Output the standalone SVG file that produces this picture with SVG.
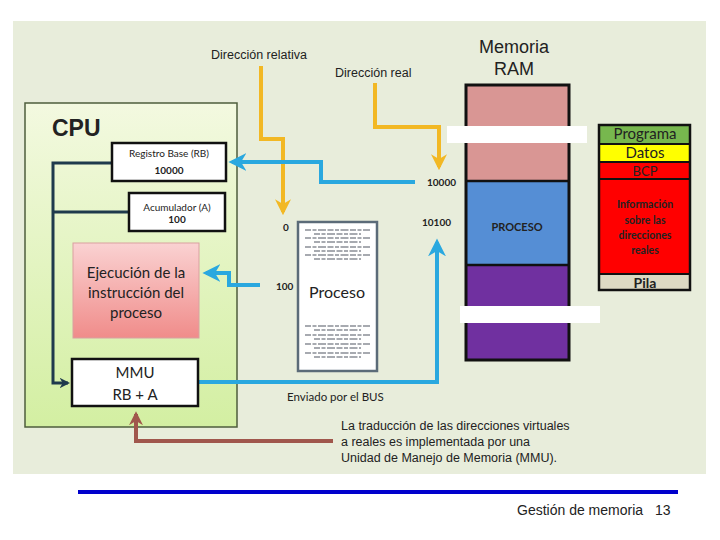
<svg xmlns="http://www.w3.org/2000/svg" width="720" height="540" viewBox="0 0 720 540">
<defs>
<linearGradient id="gCpu" x1="0" y1="0" x2="0" y2="1"><stop offset="0" stop-color="#f3f9e0"/><stop offset="1" stop-color="#d3efa2"/></linearGradient>
<linearGradient id="gEje" x1="0" y1="0" x2="0" y2="1"><stop offset="0" stop-color="#fad2d2"/><stop offset="1" stop-color="#f08c8a"/></linearGradient>
<marker id="aY" viewBox="0 0 10 10" refX="8" refY="5" markerWidth="4" markerHeight="4" orient="auto"><path d="M0,0 L10,5 L0,10 L3,5 z" fill="#f2b824"/></marker>
<marker id="aB" viewBox="0 0 10 10" refX="8" refY="5" markerWidth="4.5" markerHeight="4.5" orient="auto"><path d="M0,0 L10,5 L0,10 L3,5 z" fill="#2aa8df"/></marker>
<marker id="aD" viewBox="0 0 10 10" refX="8" refY="5" markerWidth="3.5" markerHeight="3.5" orient="auto"><path d="M0,0 L10,5 L0,10 L3,5 z" fill="#1f3a4d"/></marker>
<marker id="aR" viewBox="0 0 10 10" refX="8" refY="5" markerWidth="3.5" markerHeight="3.5" orient="auto"><path d="M0,0 L10,5 L0,10 L3,5 z" fill="#a0574c"/></marker>
</defs>
<style>
.ar{font-family:"Liberation Sans",Arial,sans-serif;fill:#222}
.cb{font-family:Lato,"Open Sans","Liberation Sans",sans-serif;fill:#222}
.box{fill:#fff;stroke:#111;stroke-width:2.5}
.yl{fill:none;stroke:#f2b824;stroke-width:4;marker-end:url(#aY)}
.bl{fill:none;stroke:#2aa8df;stroke-width:4;marker-end:url(#aB)}
.dk{fill:none;stroke:#1f3a4d;stroke-width:3}
.ln{stroke:#8a8f96;stroke-width:1.3;stroke-dasharray:6 1.5 4 1.5 8 1.5}
</style>
<rect x="0" y="0" width="720" height="540" fill="#fff"/>
<rect x="13" y="21" width="693" height="453" fill="#e8eddb"/>

<g id="cpu">
<rect x="25" y="103" width="212" height="324" fill="url(#gCpu)" stroke="#4e5d3c" stroke-width="1.5"/>
<text class="ar" x="52" y="136" font-size="23" font-weight="bold" fill="#000">CPU</text>
</g>

<g id="connectors">
<path class="dk" d="M112,163 H53 V383 H68" marker-end="url(#aD)"/>
<path class="dk" d="M129,212 H53"/>
<path class="yl" d="M261,66 V139 H283 V212"/>
<path class="yl" d="M375,83 V127 H439 V167"/>
<path class="bl" d="M415,182 H321 V162 H232"/>
<path class="bl" d="M260,285 H229 V273 H206"/>
<path class="bl" d="M199,382 H437 V242"/>
<path d="M333,441 H136 V414" fill="none" stroke="#a0574c" stroke-width="4" marker-end="url(#aR)"/>
</g>

<g id="rb">
<rect class="box" x="112" y="143" width="114" height="38"/>
<text class="cb" x="169" y="157" font-size="10" text-anchor="middle">Registro Base (RB)</text>
<text class="cb" x="169" y="174" font-size="10" font-weight="bold" text-anchor="middle">10000</text>
</g>
<g id="acumulador">
<rect class="box" x="129" y="193" width="96" height="38"/>
<text class="cb" x="177" y="211" font-size="10" text-anchor="middle">Acumulador (A)</text>
<text class="cb" x="177" y="223" font-size="10" font-weight="bold" text-anchor="middle">100</text>
</g>
<g id="ejecucion">
<rect x="73" y="243" width="126" height="95" fill="url(#gEje)" stroke="#d9a0a0" stroke-width="1"/>
<text class="cb" x="136" y="278" font-size="15" text-anchor="middle">Ejecución de la</text>
<text class="cb" x="136" y="298" font-size="15" text-anchor="middle">instrucción del</text>
<text class="cb" x="136" y="318" font-size="15" text-anchor="middle">proceso</text>
</g>
<g id="mmu">
<rect class="box" x="72" y="359" width="126" height="47"/>
<text class="cb" x="135" y="378" font-size="15" text-anchor="middle">MMU</text>
<text class="cb" x="135" y="400" font-size="15" text-anchor="middle">RB + A</text>
</g>

<g id="labels">
<text class="ar" x="211" y="59" font-size="12.5">Dirección relativa</text>
<text class="ar" x="335" y="77" font-size="12.5">Dirección real</text>
<text class="cb" x="283" y="231" font-size="10" font-weight="bold">0</text>
<text class="cb" x="276" y="290" font-size="10" font-weight="bold">100</text>
<text class="cb" x="427" y="186" font-size="10" font-weight="bold">10000</text>
<text class="cb" x="422" y="226" font-size="10" font-weight="bold">10100</text>
<text class="cb" x="287" y="401" font-size="11.5">Enviado por el BUS</text>
<text class="ar" x="341" y="430" font-size="12.5">La traducción de las direcciones virtuales</text>
<text class="ar" x="341" y="446" font-size="12.5">a reales es implementada por una</text>
<text class="ar" x="341" y="462" font-size="12.5">Unidad de Manejo de Memoria (MMU).</text>
</g>

<g id="proceso-doc">
<rect x="298" y="222" width="79" height="149" fill="#fff" stroke="#5b6b78" stroke-width="2.5"/>
<g class="ln">
<line x1="305" y1="230" x2="370" y2="230"/><line x1="314" y1="234" x2="361" y2="234"/>
<line x1="305" y1="238" x2="370" y2="238"/><line x1="314" y1="242" x2="361" y2="242"/>
<line x1="305" y1="247" x2="370" y2="247"/><line x1="314" y1="251" x2="361" y2="251"/>
<line x1="305" y1="255" x2="370" y2="255"/><line x1="314" y1="259" x2="361" y2="259"/>
<line x1="305" y1="326" x2="370" y2="326"/><line x1="314" y1="330" x2="361" y2="330"/>
<line x1="305" y1="335" x2="370" y2="335"/><line x1="314" y1="339" x2="361" y2="339"/>
<line x1="305" y1="344" x2="370" y2="344"/><line x1="314" y1="348" x2="361" y2="348"/>
<line x1="305" y1="353" x2="370" y2="353"/><line x1="314" y1="357" x2="361" y2="357"/>
</g>
<text class="cb" x="337" y="298" font-size="16" text-anchor="middle">Proceso</text>
</g>

<g id="ram">
<text class="ar" x="514" y="53" font-size="18" text-anchor="middle">Memoria</text>
<text class="ar" x="514" y="75" font-size="18" text-anchor="middle">RAM</text>
<rect x="466" y="85" width="103" height="96" fill="#d99694"/>
<rect x="466" y="181" width="103" height="84" fill="#558ed5"/>
<rect x="466" y="265" width="103" height="95" fill="#7030a0"/>
<line x1="466" y1="181" x2="569" y2="181" stroke="#111" stroke-width="2.5"/>
<line x1="466" y1="265" x2="569" y2="265" stroke="#111" stroke-width="2.5"/>
<rect x="466" y="85" width="103" height="275" fill="none" stroke="#111" stroke-width="3"/>
<text class="cb" x="517" y="231" font-size="11" font-weight="bold" fill="#1f2f5e" text-anchor="middle">PROCESO</text>
<rect x="447" y="126" width="140" height="17" fill="#fff"/>
<rect x="460" y="306" width="140" height="17" fill="#fff"/>
</g>

<g id="bcp-layout">
<rect x="599" y="125" width="91" height="19" fill="#77b74e"/>
<rect x="599" y="144" width="91" height="18" fill="#ffff00"/>
<rect x="599" y="162" width="91" height="17" fill="#ff0000"/>
<rect x="599" y="179" width="91" height="95" fill="#ff0000"/>
<rect x="599" y="274" width="91" height="16" fill="#ddd9c3"/>
<g stroke="#111" stroke-width="2">
<line x1="599" y1="144" x2="690" y2="144"/><line x1="599" y1="162" x2="690" y2="162"/>
<line x1="599" y1="179" x2="690" y2="179"/><line x1="599" y1="274" x2="690" y2="274"/>
</g>
<rect x="599" y="125" width="91" height="165" fill="none" stroke="#111" stroke-width="2.5"/>
<text class="cb" x="645" y="139" font-size="15" text-anchor="middle" fill="#111">Programa</text>
<text class="cb" x="645" y="158" font-size="15" text-anchor="middle" fill="#111">Datos</text>
<text class="cb" x="645" y="176" font-size="13" text-anchor="middle" fill="#8b0000">BCP</text>
<text class="cb" x="645" y="208" font-size="10.5" font-weight="bold" text-anchor="middle" fill="#a00000">Información</text>
<text class="cb" x="645" y="224" font-size="10.5" font-weight="bold" text-anchor="middle" fill="#a00000">sobre las</text>
<text class="cb" x="645" y="239" font-size="10.5" font-weight="bold" text-anchor="middle" fill="#a00000">direcciones</text>
<text class="cb" x="645" y="254" font-size="10.5" font-weight="bold" text-anchor="middle" fill="#a00000">reales</text>
<text class="cb" x="645" y="288" font-size="14" font-weight="bold" text-anchor="middle" fill="#111">Pila</text>
</g>

<g id="footer">
<rect x="78" y="490" width="600" height="4" fill="#0000cc"/>
<text class="ar" x="517" y="515" font-size="14">Gestión de memoria</text>
<text class="ar" x="655" y="515" font-size="14">13</text>
</g>
</svg>
